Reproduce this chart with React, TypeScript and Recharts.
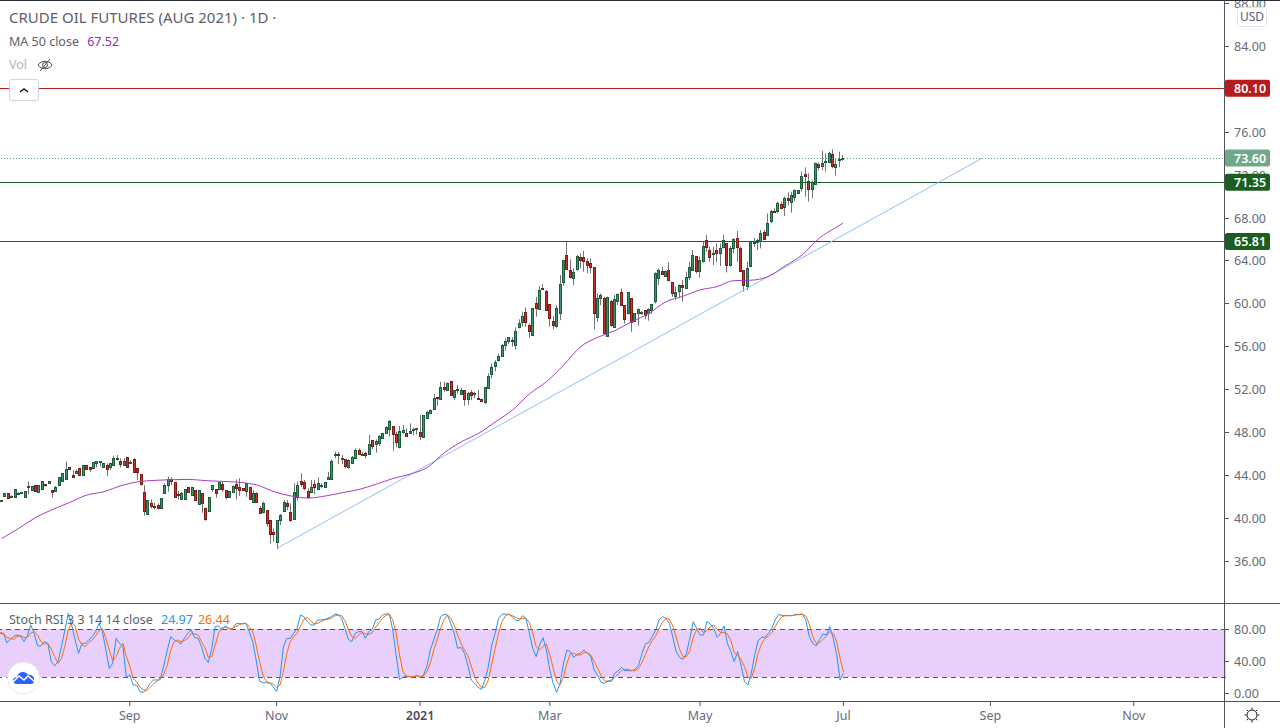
import { Bar, ComposedChart, Line, ReferenceArea, ReferenceLine, XAxis, YAxis } from "recharts";

const FONT = "'Noto Sans', sans-serif";
const AXIS_LINE = "#50535e";
const TICK_TEXT = "#666a75";

// daily candles, one entry per session
const opens = [
  41.64, 42.1, 42.31, 42.08, 42, 42.36, 42.39, 42, 42.94, 42.62,
  43.06, 42.47, 42.75, 43.15, 43.31, 42.59, 42.56, 43.12, 43.5, 43.68,
  44.74, 43.99, 44.24, 44.65, 44.06, 44.93, 44.74, 44.71, 45.17, 45.21,
  44.8, 44.93, 44.74, 44.99, 45.56, 45.36, 44.96, 45.67, 45.2, 45.52,
  44.65, 44.09, 42.44, 40.42, 41.38, 41.12, 41.26, 40.98, 42.38, 43.06,
  43.62, 43.34, 42.28, 41.82, 41.82, 42.87, 42.19, 42.62, 41.29, 42.31,
  40.91, 40.63, 42.75, 42.69, 42.69, 43.15, 42.59, 42, 42.41, 43.15,
  42.87, 42.78, 42.53, 42.91, 41.54, 42.31, 40.91, 40.6, 40.76, 39.79,
  38.68, 37.74, 39.83, 40.7, 41.38, 40.54, 39.95, 41.94, 43.43, 43.34,
  42.5, 42.41, 43.15, 42.69, 43.03, 42.87, 43.68, 43.62, 45.9, 45.98,
  45.6, 45.49, 44.74, 45.18, 45.58, 46.33, 46, 46.08, 45.98, 47.26,
  46.95, 47.04, 47.51, 47.91, 48.29, 48.57, 47.82, 46.67, 48.04, 47.94,
  47.94, 48.3, 48.29, 48.01, 47.54, 49.37, 49.78, 50.21, 51.27, 51.15,
  52.2, 51.96, 52.76, 51.27, 52.02, 51.61, 51.92, 51.08, 51.74, 51.66,
  51.2, 51.11, 50.87, 52.11, 53.42, 54.23, 54.72, 55.16, 56.15, 56.55,
  56.58, 56.18, 57.83, 58.33, 59.2, 57.99, 57.13, 60.04, 59.54, 61.43,
  61.19, 59.94, 58.36, 57.95, 59.17, 62, 64.52, 63.12, 62.43, 63.21,
  64.33, 64.33, 63.96, 63.77, 63.4, 58.79, 60.57, 60.5, 56.96, 60.22,
  57.86, 60.29, 61.06, 59.85, 59.1, 60.5, 58.42, 59.1, 59.2, 59.38,
  59.1, 59.38, 60.29, 62.43, 63.02, 62.62, 63.12, 62, 60.75, 61.22,
  61.75, 61.5, 62.53, 63.15, 64.43, 63.09, 64.02, 65.95, 64.99, 64.65,
  64.99, 64.77, 65.33, 65.64, 63.65, 65.17, 66.1, 65.23, 63.15, 61.69,
  63.56, 65.74, 65.73, 65.83, 66.67, 66.45, 67.75, 68.7, 68.69, 69.28,
  69.06, 69.84, 69.53, 69.93, 70.3, 70.83, 72.1, 71.42, 70.74, 71.14,
  73.01, 72.89, 73.28, 73.26, 73.94, 72.73, 73.47, 73.5,
];
const highs = [
  41.69, 42.35, 42.31, 42.14, 42.69, 42.42, 42.45, 42.5, 43.43, 43.03,
  43.06, 43.06, 43.43, 43.15, 43.43, 42.59, 43, 43.84, 44.18, 45.3,
  44.74, 44.49, 44.55, 44.65, 44.93, 44.93, 44.8, 45.21, 45.3, 45.3,
  45.11, 45.11, 45.11, 45.83, 45.89, 45.58, 45.58, 45.7, 45.42, 45.6,
  44.65, 44.09, 43.09, 41.66, 41.75, 41.44, 41.38, 41.85, 43.25, 43.87,
  43.81, 43.34, 42.56, 42.47, 42.69, 42.87, 42.87, 42.62, 42.62, 42.31,
  40.98, 41.94, 43.06, 42.69, 43.37, 43.4, 42.59, 42.5, 43.03, 43.62,
  43.74, 42.78, 43.25, 42.91, 42.62, 42.4, 41.16, 41.54, 40.76, 39.79,
  39.05, 39.83, 40.39, 41.69, 41.69, 41.38, 43.25, 43.4, 44.18, 43.56,
  42.78, 43.56, 43.56, 43.81, 43.25, 43.4, 44.33, 45.49, 46.2, 46.2,
  45.89, 45.49, 45.49, 45.8, 46.51, 46.51, 46.2, 46.2, 47.76, 47.29,
  47.35, 47.76, 47.95, 48.6, 49.16, 48.6, 48.07, 48.6, 48.69, 48.38,
  48.84, 48.47, 48.38, 49.62, 49.62, 50.03, 50.15, 51.58, 51.27, 52.73,
  52.73, 52.65, 52.8, 51.95, 52.42, 52.17, 51.95, 51.8, 51.95, 51.8,
  51.95, 51.15, 52.22, 53.51, 54.44, 54.75, 55.38, 56.25, 56.77, 56.9,
  56.87, 57.8, 58.55, 59.26, 59.66, 58.17, 59.6, 60.66, 61.66, 61.84,
  61.28, 59.98, 58.86, 59.88, 62.68, 64.1, 65.81, 64.14, 63.3, 64.55,
  64.7, 64.95, 64.24, 64.24, 63.42, 60.97, 60.97, 60.66, 60.66, 60.35,
  60.82, 60.97, 61.44, 59.88, 61.1, 60.52, 59.12, 59.57, 59.32, 59.42,
  59.57, 59.96, 62.93, 63.3, 63.46, 63.09, 63.86, 62.02, 61.59, 61.81,
  62.22, 63, 63.93, 65.02, 64.45, 64.4, 65.79, 66.42, 65.33, 65.33,
  65.64, 65.64, 66.42, 65.7, 65.39, 66.1, 66.79, 65.33, 63.17, 63.93,
  65.79, 66.17, 66.1, 66.88, 66.88, 68.44, 68.75, 68.9, 69.53, 69.53,
  70, 70.4, 70.46, 70.68, 70.6, 72.33, 72.73, 72.17, 71.49, 73.17,
  73.17, 74.25, 74.04, 74.19, 74.41, 73.57, 74.19, 73.88,
];
const lows = [
  41.6, 42.05, 41.91, 42.06, 41.98, 42.34, 42.37, 42, 42.25, 42.6,
  42.56, 42.45, 42.75, 42.94, 43.29, 41.91, 42.44, 43.12, 43.5, 43.68,
  44.55, 43.87, 44.24, 44.06, 44.06, 44.62, 44.33, 44.71, 44.74, 44.8,
  44.8, 43.93, 44.49, 44.99, 45.36, 44.74, 44.93, 44.8, 45.11, 44.33,
  43.56, 43.03, 40.23, 40.29, 40.91, 40.82, 40.82, 40.98, 42.38, 42.47,
  43.09, 42, 41.75, 41.75, 41.82, 42.44, 42.19, 41.69, 41.29, 40.51,
  39.76, 40.63, 42.47, 41.91, 42.69, 42.47, 41.75, 42, 42.41, 41.75,
  42.07, 42.66, 42, 41.79, 41.54, 41.54, 40.39, 40.45, 39.2, 37.65,
  37.8, 37.12, 39.36, 40.7, 40.76, 39.67, 39.95, 41.63, 42.94, 42.62,
  41.85, 42.31, 42.25, 42.62, 42.78, 42.87, 43.65, 43.62, 45.58, 45.05,
  45.05, 44.65, 44.62, 45.05, 45.55, 45.89, 45.83, 45.58, 45.98, 46.45,
  46.11, 46.73, 47.5, 47.85, 47.6, 46.29, 46.61, 46.51, 47.91, 47.6,
  47.85, 47.76, 47.82, 47.29, 47.48, 49.31, 49.78, 50.18, 50.49, 51.15,
  51.8, 51.96, 51.52, 51.02, 51.64, 51.55, 50.49, 50.56, 51.02, 51.18,
  51.08, 50.94, 50.65, 52.11, 53.04, 53.73, 54.6, 55.13, 55.62, 56.24,
  56, 55.75, 57.7, 57.86, 57.86, 56.83, 57, 58.79, 59.54, 61.28,
  59.42, 57.86, 57.61, 57.77, 58.48, 61.69, 63.15, 62.37, 61.75, 63.09,
  63.3, 62.99, 62.84, 62.84, 57.61, 58.33, 59.88, 57.24, 56.93, 57.86,
  57.86, 59.88, 59.88, 58.17, 59, 57.39, 58.33, 57.95, 58.95, 58.55,
  58.42, 59.04, 60.04, 61.75, 62.68, 62.53, 62.22, 60.66, 60.35, 60.51,
  60.2, 61.44, 62.22, 63.15, 62.84, 62.44, 63.84, 64.86, 63.93, 63.62,
  63.87, 63.52, 65.17, 62.93, 63.46, 64.71, 63.93, 63.06, 61.13, 61.29,
  63.46, 65.33, 65, 65.17, 65.95, 66.42, 67.51, 68.6, 68.44, 68.81,
  68.19, 69.2, 68.5, 69.59, 70.3, 70.46, 70, 69.53, 69.84, 71.08,
  72.42, 72.48, 72.33, 73.26, 72.64, 71.95, 72.73, 73.35,
];
const closes = [
  41.66, 42.31, 41.91, 42.1, 42.69, 42.38, 42.41, 42.5, 43.03, 43.03,
  42.56, 43.06, 43.43, 43.08, 43.43, 42.47, 42.91, 43.84, 44.18, 44.55,
  44.55, 43.87, 44.37, 44.06, 44.93, 44.62, 44.55, 45.21, 45.3, 45.3,
  45.11, 44.62, 45.11, 45.58, 45.58, 45.08, 45.36, 44.8, 45.21, 44.33,
  44.33, 43.22, 40.7, 41.66, 41.16, 41.08, 40.98, 41.85, 43.06, 43.62,
  43.5, 42, 42.22, 42.31, 42.69, 42.44, 42.87, 41.69, 42.62, 41.44,
  39.95, 41.94, 43.06, 42.38, 43.37, 42.75, 41.94, 42.5, 43.03, 42.84,
  42.66, 42.66, 43.25, 41.79, 42.31, 41.54, 40.51, 41.38, 39.58, 38.55,
  38.55, 39.79, 40.29, 41.54, 41.16, 39.83, 42.41, 43.06, 43.22, 42.84,
  42, 42.87, 42.94, 43.25, 43.06, 43.34, 43.81, 45.3, 45.95, 45.92,
  45.65, 44.9, 45.39, 45.67, 46.33, 45.98, 46.02, 45.92, 46.89, 46.76,
  47.17, 47.63, 47.91, 48.5, 49.06, 47.88, 47.13, 48.1, 48.22, 47.69,
  48.13, 48.32, 48.38, 47.69, 49.59, 49.87, 50.09, 51.18, 51.2, 52.2,
  52.08, 52.58, 51.52, 51.92, 52.05, 51.95, 51.15, 51.64, 51.46, 51.68,
  51.15, 50.96, 52.2, 53.26, 54.1, 54.57, 55.13, 56.15, 56.52, 56.87,
  56.5, 57.43, 58.17, 58.86, 58.33, 57.49, 59.57, 59.63, 61.25, 61.34,
  59.45, 58.7, 58.05, 59.57, 61.84, 64.08, 63.21, 62.53, 62.96, 64.42,
  64.11, 64.02, 63.65, 63.46, 59.17, 60.5, 60.78, 57.3, 60.6, 58.05,
  60.41, 60.88, 59.91, 58.61, 61.06, 58.33, 59.1, 59.48, 59.22, 58.98,
  59.48, 59.94, 62.84, 63.12, 62.81, 63.02, 62.25, 60.97, 61.06, 61.72,
  61.53, 62.5, 63.43, 64.55, 63.09, 64.08, 65.36, 65.33, 64.4, 64.7,
  64.77, 65.2, 65.92, 63.65, 65.2, 66.01, 65.33, 63.09, 61.78, 63.31,
  65.76, 65.8, 65.92, 66.57, 66.07, 67.51, 68.66, 68.66, 69.4, 68.97,
  69.84, 69.71, 70.12, 70.58, 70.58, 71.89, 71.95, 70.74, 71.33, 73.1,
  72.79, 73.13, 73.32, 74.04, 72.89, 73, 73.5, 73.6,
];

// MA 50, read every fifth session
const ma50Slots = [
  0, 5, 10, 15, 20, 25, 30, 35, 40, 45, 50, 55, 60, 65, 70, 75, 80, 85, 90, 95, 100, 105, 110, 115, 120,
  125, 130, 135, 140, 145, 150, 155, 160, 165, 170, 175, 180, 185, 190, 195, 200, 205, 210, 215, 220, 225, 230, 235,
  240, 245, 247,
];
const ma50Values = [
  38.1, 39.05, 40.07, 40.82, 41.47, 42.16, 42.47, 43.03, 43.4, 43.53, 43.59, 43.62, 43.5, 43.43, 43.34, 43.09, 42.47,
  42.07, 41.88, 42.07, 42.38, 42.69, 43.18, 43.71, 44.12, 44.74, 46.11, 47.13, 47.91, 49, 50.09, 51.6, 52.75, 54.28,
  56, 56.87, 57.49, 58.33, 59.1, 60.19, 60.7, 61.29, 61.6, 62.16, 62.2, 62.53, 63.52, 64.55, 66.1, 67.13, 67.52,
];

const stochK = [
  74.6, 74.6, 63, 67.1, 70.4, 72.5, 71.3, 64.2, 71.3, 85,
  74.6, 58.8, 58.8, 64.2, 62.1, 39.2, 33.8, 39.2, 58, 78.8,
  99.6, 85, 66.3, 49.6, 62.1, 62.1, 66.3, 70.4, 76.7, 87.1,
  76.7, 53.8, 30.8, 37.1, 68.3, 62.1, 58, 19.6, 22.5, 10,
  10, 1.7, 0.8, 5.8, 12.1, 16.3, 16.3, 18.3, 35, 53.8,
  70.4, 66.3, 64.2, 61.3, 68.3, 74.6, 78.8, 69.2, 68.3, 58,
  43.3, 38.3, 55.8, 83, 83.8, 78.8, 83.8, 80.8, 79.6, 86.3,
  87.1, 86.3, 87.1, 76.7, 64.2, 41.3, 15, 12.9, 12.9, 12.1,
  7.9, 1.7, 20.4, 58, 68.3, 68.3, 74.6, 80.8, 97.5, 95.4,
  89.2, 85, 85, 91.3, 91.3, 92.1, 93.3, 95.4, 98.3, 98.3,
  93.3, 80.8, 67.1, 64.2, 74.6, 76.7, 76.7, 68.3, 76.7, 79.6,
  91.3, 92.5, 97.5, 98.8, 98.8, 78.8, 47.5, 17.1, 19.6, 21.3,
  20.4, 19.6, 22.5, 19.6, 22.5, 33,
  53.8, 66.3, 78.8, 95.4, 98.3, 97.5, 87.1, 74.6, 55.8, 57.1,
  49.6, 35, 16.3, 12.1, 7.1, 4.6, 16.3, 33, 60, 74.6,
  93.3, 98.3, 98.8, 98.3, 95.4, 91.3, 90.4, 96.7, 93.3, 74.6,
  55.8, 45.4, 60, 69.2, 53.8, 28.8, 12.1, 0.8, 12.1, 37.1,
  53.8, 51.7, 44.6, 48.3, 49.6, 53.8, 49.6, 45.4, 28.8, 22.5,
  13.3, 12.1, 15.4, 15, 24.6, 27.5, 32.1, 27.9, 27.9, 27.9,
  29.6, 35, 49.6, 61.3, 63.3, 70.4, 78.8, 91.3, 95.4, 93.3,
  87.1, 70.4, 51.7, 44.6, 42.1, 49.6, 68.3, 89.2, 80.8, 72.5,
  72.5, 89.2, 86.3, 80.8, 69.6, 74.6, 83.8, 62.1, 51.7, 39.2,
  51.7, 35, 14.2, 10, 24.6, 47.5, 65.4, 69.6, 69.6, 74.6,
  80.8, 91.3, 98.3, 96.7, 96.7, 96.7, 96.7, 98.3, 98.3, 98.8,
  90.4, 70.4, 62.1, 58.8, 67.1, 73.8, 72.5, 83, 68, 48, 16.3, 24.97,
];
const stochD = [
  75.4, 74.6, 69.6, 68.3, 67.1, 70.4, 71.7, 69.6, 69.2, 74.6,
  76.7, 72.5, 64.2, 60.8, 62.1, 55, 45.4, 37.1, 43.3, 58.8,
  78.8, 87.9, 83.8, 67.1, 60, 58, 63.3, 66.3, 71.3, 78,
  80.8, 68.3, 53.8, 40.4, 45.4, 55.8, 62.1, 45.4, 33.8, 18.3,
  14.2, 7.1, 3.8, 3, 7.1, 11.3, 15, 17.1, 23.8, 35,
  53.8, 64.2, 66.3, 64.2, 65.4, 68.3, 74.6, 73.8, 72.5, 64.2,
  56.7, 44.6, 45.4, 60, 74.6, 81.7, 82.1, 80.8, 80.8, 83,
  85, 87.1, 87.1, 83, 76.7, 60, 39.2, 22.5, 14.2, 12.9,
  11.3, 7.1, 10, 26.7, 49.6, 64.2, 70.4, 74.6, 83.8, 92.1,
  94.2, 90, 86.3, 87.1, 89.2, 91.3, 92.1, 93.3, 96.3, 97.5,
  96.7, 90.4, 79.6, 70.4, 68.3, 72.5, 75.8, 73.8, 73.3, 75.4,
  82.1, 87.9, 93.3, 96.7, 98.3, 91.3, 74.6, 47.5, 26.7, 20.4,
  20.4, 20.4, 21.3, 20.4, 21.3, 26.7,
  37.1, 53.8, 66.3, 80.8, 91.3, 97.5, 93.3, 85, 72.5, 62.1,
  53.8, 46.7, 33.8, 20.4, 12.1, 7.1, 7.1, 16.3, 36.3, 55.8,
  75.4, 89.2, 96.3, 98.3, 96.7, 94.6, 92.5, 93.3, 93.3, 87.9,
  74.6, 58, 53.8, 58, 61.3, 47.5, 30.8, 14.2, 10, 20.4,
  37.1, 49.6, 49.6, 47.5, 47.5, 50.4, 50.8, 47.5, 39.2, 30.8,
  21.7, 15.4, 14.2, 15, 19.2, 23.8, 27.9, 29.6, 29.6, 27.9,
  27.9, 30.8, 38, 48.3, 58, 65.4, 71.3, 80.8, 88.3, 93.3,
  92.5, 83.8, 69.6, 54.6, 45.4, 45.4, 53, 69.6, 79.6, 80.8,
  75.4, 78, 83, 85, 79.6, 75.4, 75.8, 73.8, 65.4, 50.8,
  46.3, 42.1, 33, 19.6, 18.3, 30.8, 49.6, 61.3, 68.3, 71.3,
  75.4, 83, 90.4, 95.4, 96.7, 96.7, 96.7, 97.5, 97.9, 98.3,
  96.3, 86.3, 70.4, 62.1, 63, 67.1, 71.3, 76.7, 74.6, 64.2, 43.3, 26.44,
];

const SLOT_COUNT = 360;
const PRICE_DOMAIN = [32.09, 88.06];
const priceTicks = [36, 40, 44, 48, 52, 56, 60, 64, 68, 72, 76, 80, 84, 88];
const stochTicks = [0, 40, 80];
const timeTickSlots = [38, 81, 123, 161, 205, 247, 290, 332];
const timeTickLabels = ["Sep", "Nov", "2021", "Mar", "May", "Jul", "Sep", "Nov"];

const resistance = 80.1;
const lastPrice = 73.6;
const support1 = 71.35;
const support2 = 65.81;
const trendLine = [
  { x: 81, y: 37.22 },
  { x: 288, y: 73.6 },
];

const priceRows = Array.from({ length: SLOT_COUNT }, (_, i) => {
  const m = ma50Slots.indexOf(i);
  return {
    slot: i,
    open: opens[i],
    close: closes[i],
    range: i < opens.length ? [lows[i], highs[i]] : null,
    ma: m >= 0 ? ma50Values[m] : null,
  };
});
const stochRows = Array.from({ length: SLOT_COUNT }, (_, i) => ({
  slot: i,
  k: i < stochK.length ? stochK[i] : null,
  d: i < stochD.length ? stochD[i] : null,
}));

function Candle(props: any) {
  const { x, y, width, height, payload } = props;
  if (!payload || !payload.range || !height) return null;
  const [low, high] = payload.range;
  const perUnit = height / (high - low);
  const up = payload.close >= payload.open;
  const cx = Math.floor(x + width / 2) + 0.5;
  const top = Math.round(y + (high - Math.max(payload.open, payload.close)) * perUnit) + 0.5;
  const bot = Math.round(y + (high - Math.min(payload.open, payload.close)) * perUnit) + 0.5;
  return (
    <g>
      <line x1={cx} x2={cx} y1={y} y2={y + height} stroke="#737375" strokeWidth={1} />
      <rect
        x={cx - 1}
        y={top}
        width={2}
        height={Math.max(bot - top, 1)}
        fill={up ? "#3f9470" : "#c8302a"}
        stroke={up ? "#1c5c3c" : "#7c1c18"}
        strokeWidth={1}
      />
    </g>
  );
}

function PriceTick(props: any) {
  const { x, y, payload } = props;
  return (
    <g>
      <line x1={x - 9} x2={x - 5} y1={y} y2={y} stroke={AXIS_LINE} shapeRendering="crispEdges" />
      <text x={x} y={y + 4.5} fontFamily={FONT} fontSize={12.5} fill={TICK_TEXT}>
        {payload.value.toFixed(2)}
      </text>
    </g>
  );
}

function TimeTick(props: any) {
  const { x, y, payload } = props;
  const label = timeTickLabels[timeTickSlots.indexOf(payload.value)];
  const year = label === "2021";
  return (
    <g>
      <line x1={x} x2={x} y1={y - 8} y2={y - 4} stroke={AXIS_LINE} />
      <text
        x={x}
        y={y + 10}
        textAnchor="middle"
        fontFamily={FONT}
        fontSize={12.5}
        fontWeight={year ? 600 : 400}
        fill={year ? "#4a4d57" : TICK_TEXT}
      >
        {label}
      </text>
    </g>
  );
}

function PriceTag(props: any) {
  const { viewBox, value, fill } = props;
  const left = viewBox.x + viewBox.width - 1;
  return (
    <g>
      <rect x={left} y={viewBox.y - 8.5} width={45} height={17} rx={2} fill={fill} />
      <text x={left + 9} y={viewBox.y + 4.5} fontFamily={FONT} fontSize={12.5} fontWeight={600} fill="#fff">
        {value.toFixed(2)}
      </text>
    </g>
  );
}

export default function App() {
  return (
    <div style={{ position: "relative", width: 1280, height: 728, overflow: "hidden", background: "#fff", fontFamily: FONT }}>
      <style>{"body{margin:0}"}</style>

      <div style={{ position: "absolute", left: 0, top: 0 }}>
        <ComposedChart
          width={1280}
          height={603}
          data={priceRows}
          margin={{ top: 3, right: 0, bottom: 0, left: 0 }}
          barCategoryGap={0}
        >
          <XAxis dataKey="slot" hide />
          <YAxis
            orientation="right"
            width={54}
            domain={PRICE_DOMAIN}
            ticks={priceTicks}
            interval={0}
            axisLine={false}
            tickLine={false}
            tick={PriceTick}
          />
          <ReferenceLine y={lastPrice} stroke="#5d9e7e" strokeDasharray="1 2" shapeRendering="crispEdges" />
          <ReferenceLine y={resistance} stroke="#b71c1c" shapeRendering="crispEdges" />
          <ReferenceLine y={support1} stroke="#1b5e20" shapeRendering="crispEdges" />
          <ReferenceLine y={support2} stroke="#1b5e20" shapeRendering="crispEdges" />
          <ReferenceLine segment={trendLine} stroke="#90bff9" />
          <Line type="monotone" dataKey="ma" stroke="#a83cc4" strokeWidth={1} dot={false} connectNulls isAnimationActive={false} />
          <Bar dataKey="range" shape={Candle} isAnimationActive={false} />
        </ComposedChart>
      </div>

      {/* price tags sit above the axis labels, so they get their own layer */}
      <div style={{ position: "absolute", left: 0, top: 0 }}>
        <ComposedChart width={1280} height={603} data={priceRows} margin={{ top: 3, right: 54, bottom: 0, left: 0 }}>
          <XAxis dataKey="slot" hide />
          <YAxis hide domain={PRICE_DOMAIN} />
          <Line dataKey="ma" stroke="none" dot={false} isAnimationActive={false} />
          <ReferenceLine y={lastPrice} stroke="none" label={<PriceTag value={lastPrice} fill="#6fa98a" />} />
          <ReferenceLine y={resistance} stroke="none" label={<PriceTag value={resistance} fill="#b71c1c" />} />
          <ReferenceLine y={support1} stroke="none" label={<PriceTag value={support1} fill="#1b5e20" />} />
          <ReferenceLine y={support2} stroke="none" label={<PriceTag value={support2} fill="#1b5e20" />} />
        </ComposedChart>
      </div>

      <div style={{ position: "absolute", left: 0, top: 603 }}>
        <ComposedChart width={1280} height={125} data={stochRows} margin={{ top: 0, right: 0, bottom: 0, left: 0 }}>
          <XAxis
            dataKey="slot"
            height={26}
            ticks={timeTickSlots}
            interval={0}
            axisLine={false}
            tickLine={false}
            tick={TimeTick}
          />
          <YAxis
            orientation="right"
            width={54}
            domain={[-11.25, 112.5]}
            ticks={stochTicks}
            interval={0}
            axisLine={false}
            tickLine={false}
            tick={PriceTick}
          />
          <ReferenceArea x1={0} x2={359} y1={20} y2={80} fill="#e9cffc" fillOpacity={1} stroke="none" />
          <ReferenceLine y={80} stroke="#555" strokeDasharray="5 4" shapeRendering="crispEdges" />
          <ReferenceLine y={20} stroke="#555" strokeDasharray="5 4" shapeRendering="crispEdges" />
          <Line dataKey="k" stroke="#2196f3" strokeWidth={1} dot={false} isAnimationActive={false} />
          <Line dataKey="d" stroke="#ff6d00" strokeWidth={1} dot={false} isAnimationActive={false} />
        </ComposedChart>
      </div>

      {/* frame lines */}
      <div style={{ position: "absolute", left: 0, top: 0, width: 1280, height: 1, background: "#2a2e39" }} />
      <div style={{ position: "absolute", left: 1224, top: 0, width: 1, height: 728, background: AXIS_LINE }} />
      <div style={{ position: "absolute", left: 0, top: 603, width: 1280, height: 1, background: AXIS_LINE }} />
      <div style={{ position: "absolute", left: 0, top: 701, width: 1280, height: 1, background: AXIS_LINE }} />

      {/* legend */}
      <div style={{ position: "absolute", left: 9, top: 7, fontSize: 15, color: "#5d606b", whiteSpace: "nowrap" }}>
        CRUDE OIL FUTURES (AUG 2021) · 1D ·
      </div>
      <div style={{ position: "absolute", left: 9, top: 33, fontSize: 12.5, color: "#5d606b", whiteSpace: "nowrap" }}>
        MA 50 close <span style={{ color: "#9c27b0", marginLeft: 5 }}>67.52</span>
      </div>
      <div style={{ position: "absolute", left: 9, top: 56, fontSize: 12.5, color: "#b2b5be", whiteSpace: "nowrap" }}>Vol</div>
      <svg style={{ position: "absolute", left: 36, top: 56 }} width="18" height="18" fill="none" stroke="#4a4d57" strokeWidth="1">
        <path d="M2 9c3-5 11-5 14 0c-3 5-11 5-14 0z" />
        <circle cx="9" cy="9" r="2.5" />
        <path d="M4 15L14 3" />
      </svg>
      <div style={{ position: "absolute", left: 9, top: 79, width: 28, height: 20, border: "1px solid #d1d4dc", borderRadius: 3, background: "#fff" }}>
        <svg width="28" height="20" fill="none" stroke="#131722" strokeWidth="1.5">
          <path d="M10 12l4-3l4 3" />
        </svg>
      </div>
      <div
        style={{
          position: "absolute",
          left: 1237,
          top: 7,
          width: 28,
          height: 18,
          border: "1px solid #e0e3eb",
          borderRadius: 3,
          background: "#fff",
          fontSize: 12,
          lineHeight: "18px",
          textAlign: "center",
          color: "#5d606b",
        }}
      >
        USD
      </div>
      <div style={{ position: "absolute", left: 9, top: 611, fontSize: 12.5, color: "#5d606b", whiteSpace: "nowrap" }}>
        Stoch RSI 3 3 14 14 close <span style={{ color: "#2196f3", marginLeft: 5 }}>24.97</span>
        <span style={{ color: "#ff6d00", marginLeft: 5 }}>26.44</span>
      </div>

      {/* logo */}
      <svg style={{ position: "absolute", left: 6, top: 661 }} width="34" height="34">
        <circle cx="17.5" cy="17" r="16" fill="#fff" stroke="#e6e8ee" />
        <path d="M8 22c-2-2-1-6 3-6c1-5 8-7 11-2c4-1 7 3 6 6c0 2-1 3-3 3H10z" fill="#2962ff" />
        <path d="M7 21L13 15L18 19L22 15L29 21" fill="none" stroke="#fff" strokeWidth="1.5" />
      </svg>

      {/* settings gear */}
      <svg style={{ position: "absolute", left: 1244, top: 707 }} width="16" height="16" fill="none" stroke="#131722" strokeWidth="1">
        <circle cx="8" cy="8" r="5" />
        <path d="M8 0.5v2M8 13.5v2M0.5 8h2M13.5 8h2M2.7 2.7l1.4 1.4M11.9 11.9l1.4 1.4M2.7 13.3l1.4-1.4M11.9 4.1l1.4-1.4" />
      </svg>
    </div>
  );
}
